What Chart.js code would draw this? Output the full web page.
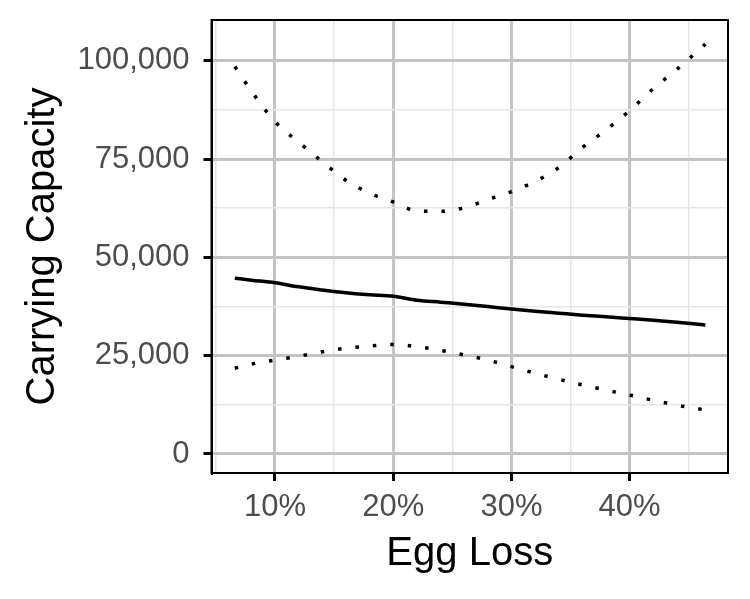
<!DOCTYPE html>
<html>
<head>
<meta charset="utf-8">
<script src="https://cdn.jsdelivr.net/npm/chart.js@4"></script>
<style>
  body { margin: 0; background: #fff; }
  #wrap { width: 750px; height: 599px; }
</style>
</head>
<body>
<div id="wrap"><canvas id="graph"></canvas></div>
<script>
// egg loss (%) along the smoothed curves
const eggLoss = [6.6, 8, 10, 12, 14, 16, 18, 20, 22, 24, 26, 28, 30, 32, 34, 36, 38, 40, 42, 44, 46.4]
// carrying capacity: fit, upper and lower bounds
const fitK   = [44700, 44200, 43550, 42500, 41700, 41000, 40500, 40100, 39100, 38600, 38100, 37500, 36850, 36300, 35800, 35300, 34900, 34450, 34000, 33500, 32800]
const upperK = [98500, 92300, 84500, 79300, 74300, 69600, 66300, 64100, 61800, 61700, 62600, 64700, 66700, 69300, 72800, 77900, 82400, 87300, 92900, 97800, 104200]
const lowerK = [21800, 22850, 23900, 24850, 26000, 26900, 27450, 27850, 27300, 26350, 25200, 23900, 22200, 20550, 19000, 17550, 16250, 15000, 13650, 12400, 11200]

const xTicks = [5, 10, 15, 20, 25, 30, 35, 40, 45]
const yTicks = [0, 12500, 25000, 37500, 50000, 62500, 75000, 87500, 100000]

const pts = (ys) => eggLoss.map((x, i) => ({x: x, y: ys[i]}))

const isMajorX = v => v % 10 === 0
const isMajorY = v => v % 25000 === 0

const FONT = "'Liberation Sans', Arial, sans-serif"

const panelBorder = {
    id: "panelBorder",
    afterDraw(chart) {
        const a = chart.chartArea, ctx = chart.ctx
        ctx.save()
        ctx.strokeStyle = "#000"
        ctx.lineWidth = 2
        ctx.strokeRect(a.left, a.top, a.right - a.left, a.bottom - a.top)
        ctx.restore()
    }
}

const lineSet = (label, ys, dash) => ({
    label: label,
    data: pts(ys),
    borderColor: "#000",
    borderWidth: 3.5,
    borderDash: dash ? [3.5, 14] : [],
    borderCapStyle: "butt",
    pointRadius: 0,
    fill: false,
    cubicInterpolationMode: "monotone"
})

new Chart(document.getElementById("graph").getContext("2d"), {
    type: "line",
    data: {
        datasets: [
            lineSet("Upper", upperK, true),
            lineSet("Fit", fitK, false),
            lineSet("Lower", lowerK, true)
        ]
    },
    options: {
        responsive: true,
        maintainAspectRatio: false,
        animation: false,
        layout: { padding: { top: 20, right: 22, left: 0, bottom: 0 } },
        plugins: { legend: { display: false }, tooltip: { enabled: false } },
        scales: {
            x: {
                type: "linear",
                min: 4.63,
                max: 48.32,
                afterBuildTicks: s => { s.ticks = xTicks.map(v => ({value: v})) },
                afterFit: s => {
                    s.height = 126
                    s.paddingLeft = 0
                    s.paddingRight = 0
                },
                border: { display: true, color: "#000", width: 2 },
                grid: {
                    color: c => isMajorX(c.tick.value) ? "#C4C4C4" : "#E5E5E5",
                    lineWidth: c => isMajorX(c.tick.value) ? 3 : 1.5,
                    tickColor: c => isMajorX(c.tick.value) ? "#000" : "rgba(0,0,0,0)",
                    tickWidth: 3,
                    tickLength: 8
                },
                ticks: {
                    color: "#4D4D4D",
                    font: { family: FONT, size: 31, lineHeight: 1 },
                    padding: 11,
                    maxRotation: 0,
                    autoSkip: false,
                    callback: v => isMajorX(v) ? v + "%" : ""
                },
                title: {
                    display: true,
                    text: "Egg Loss",
                    color: "#000",
                    font: { family: FONT, size: 40, lineHeight: 1 },
                    padding: { top: 0, bottom: 25 }
                }
            },
            y: {
                type: "linear",
                min: -4831,
                max: 110348,
                afterBuildTicks: s => { s.ticks = yTicks.map(v => ({value: v})) },
                afterFit: s => {
                    s.width = 211.5
                    s.paddingTop = 0
                    s.paddingBottom = 0
                },
                border: { display: true, color: "#000", width: 2 },
                grid: {
                    color: c => isMajorY(c.tick.value) ? "#C4C4C4" : "#E5E5E5",
                    lineWidth: c => isMajorY(c.tick.value) ? 3 : 1.5,
                    tickColor: c => isMajorY(c.tick.value) ? "#000" : "rgba(0,0,0,0)",
                    tickWidth: 3,
                    tickLength: 8
                },
                ticks: {
                    color: "#4D4D4D",
                    font: { family: FONT, size: 31, lineHeight: 1 },
                    padding: 14,
                    autoSkip: false,
                    callback: v => isMajorY(v) ? v.toLocaleString("en-US") : ""
                },
                title: {
                    display: true,
                    text: "Carrying Capacity",
                    color: "#000",
                    font: { family: FONT, size: 40, lineHeight: 1 },
                    padding: { top: 23, bottom: 0 }
                }
            }
        }
    },
    plugins: [panelBorder]
})
</script>
</body>
</html>
